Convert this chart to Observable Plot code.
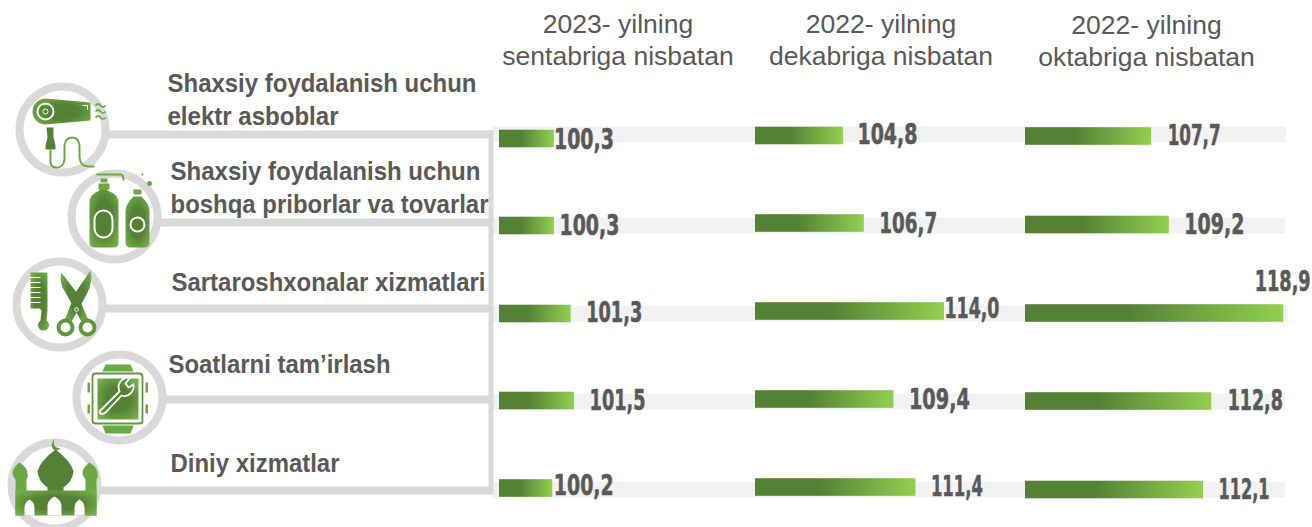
<!DOCTYPE html>
<html>
<head>
<meta charset="utf-8">
<script src="https://cdn.jsdelivr.net/npm/d3@7"></script>
<script src="https://cdn.jsdelivr.net/npm/@observablehq/plot@0.6"></script>
<style>
html,body{margin:0;padding:0;background:#fff;overflow:hidden;}
#chart{position:relative;width:1312px;height:527px;overflow:hidden;}
#chart svg{position:absolute;left:0;top:0;max-width:none;}
</style>
</head>
<body>
<div id="chart"></div>
<script>
// ---------- data ----------
const categories = [
  "Shaxsiy foydalanish uchun\nelektr asboblar",
  "Shaxsiy foydalanish uchun\nboshqa priborlar va tovarlar",
  "Sartaroshxonalar xizmatlari",
  "Soatlarni tam’irlash",
  "Diniy xizmatlar"
];
const panelTitles = [
  "2023- yilning\nsentabriga nisbatan",
  "2022- yilning\ndekabriga nisbatan",
  "2022- yilning\noktabriga nisbatan"
];
const sep2023 = [100.3, 100.3, 101.3, 101.5, 100.2];
const dec2022 = [104.8, 106.7, 114.0, 109.4, 111.4];
const oct2022 = [107.7, 109.2, 118.9, 112.8, 112.1];

// ---------- layout (pixels, kept apart from the data) ----------
const W = 1312, H = 527, GREY = "#595959", LINE = "#d9d9d9", TRACK = "#f2f2f2";
const panels = [
  {values: sep2023, base: 97.03, slope: 16.8, left: 499, titleX: 617.5, titleY: 64,
   barDy: [4.2, 2.6, 2, 0.4, -0.7],
   labelDx: [-0.5, 5, 15, 15, 1], labelDy: [4.7, 2.6, 1, -0.1, -3.7], labelW: [60, 60, 56, 56, 60]},
  {values: dec2022, base: 96.79, slope: 10.98, left: 755, titleX: 880.5, titleY: 64,
   barDy: [1.2, 0.1, -0.5, -1.1, -1.7],
   labelDx: [14, 15, 0, 15, 15], labelDy: [-0.3, 0.1, -3.5, -1.1, -2.7], labelW: [60, 58, 55, 61, 52]},
  {values: oct2022, base: 97, slope: 11.79, left: 1025, titleX: 1146, titleY: 65.5,
   barDy: [1.7, 1.6, 1.5, 0.9, 0.8],
   labelDx: [16, 15, -29, 16, 15], labelDy: [0.7, 1.1, -30.5, -0.1, 0.3], labelW: [53, 60, 56, 55, 51]}
];
const rowLayout = [
  {ringX: 62,  ringY: 129, lineY: 134, lineFrom: 106, trackY: 134, trackEnd: 1286, textX: 167, textY: 124},
  {ringX: 114, ringY: 216, lineY: 222, lineFrom: 158, trackY: 225, trackEnd: 1285, textX: 170, textY: 212},
  {ringX: 59,  ringY: 304, lineY: 308, lineFrom: 95,  trackY: 313, trackEnd: 1288, textX: 171, textY: 290},
  {ringX: 119, ringY: 397, lineY: 399, lineFrom: 163, trackY: 401, trackEnd: 1285, textX: 168, textY: 372},
  {ringX: 54,  ringY: 485, lineY: 490, lineFrom: 98,  trackY: 489, trackEnd: 1285, textX: 170, textY: 471}
];
const categoryLineW = [[309, 171], [310, 318], [314], [222], [169]];

// ---------- icons (each drawn in a 100x100 box centred on its ring) ----------
const grad = `<defs><radialGradient id="g" cx="50%" cy="50%" r="65%"><stop offset="0.45" stop-color="#548235"/><stop offset="1" stop-color="#74b347"/></radialGradient></defs>`;
const wrapIcon = body => "data:image/svg+xml," + encodeURIComponent(
  `<svg xmlns="http://www.w3.org/2000/svg" viewBox="0 0 100 100" width="100" height="100">${grad}${body}</svg>`);
const icons = [
  // hair dryer
  wrapIcon(`<path fill="url(#g)" d="M33 19L78 23V41L33 45A13 13 0 0 1 33 19Z"/>
    <circle cx="33" cy="32" r="8" fill="none" stroke="#fff" stroke-width="2"/>
    <circle cx="33" cy="32" r="2.500" fill="none" stroke="#fff" stroke-width="1"/>
    <path d="M70 26H75V30" fill="none" stroke="#fff" stroke-width="1"/>
    <g fill="none" stroke="#6aa843" stroke-width="1.800"><path d="M83 26q2.500 -3 5 0t5 0"/><path d="M83 32q2.500 -3 5 0t5 0"/><path d="M83 38q2.500 -3 5 0t5 0"/></g>
    <path fill="#548235" d="M34 48H41V58L43 66V70H33V66L35 58Z"/>
    <path d="M38 70V82Q38 88 44 88Q51 88 52 80V66Q53 58 60 58Q66 58 67 66V78Q68 87 76 87H82" fill="none" stroke="#6aa843" stroke-width="2"/>`),
  // bottles
  wrapIcon(`<path fill="url(#g)" d="M25 36Q25 28 35 24V20H43V24Q54 28 54 36V76Q54 81 49 81H30Q25 81 25 76Z"/>
    <rect x="34" y="17" width="11" height="6" fill="#6aa843"/><rect x="36" y="12" width="7" height="4" fill="#6aa843"/>
    <path d="M32 8H56Q59 8 59 14" fill="none" stroke="#6aa843" stroke-width="2"/>
    <rect x="30" y="44" width="18" height="27" rx="9" fill="none" stroke="#fff" stroke-width="2"/>
    <path fill="url(#g)" d="M61 44Q61 38 69 30H77Q85 38 85 44V76Q85 81 80 81H66Q61 81 61 76Z"/>
    <rect x="69" y="23" width="8" height="5" fill="#6aa843"/>
    <circle cx="73" cy="58" r="7" fill="none" stroke="#fff" stroke-width="2"/>
    <circle cx="85" cy="17" r="2.500" fill="#6aa843"/><circle cx="78" cy="8" r="1" fill="#6aa843"/>`),
  // comb and scissors
  wrapIcon(`<path fill="url(#g)" d="M21 18H38V56L37 66A5.500 5.500 0 1 1 31 66L32 56L30 54H21Z"/>
    <g stroke="#fff" stroke-width="1.200"><path d="M20 23H31M20 28H31M20 33H31M20 38H31M20 43H31M20 48H31"/></g>
    <path fill="url(#g)" d="M52 18Q49 28 56 38L73 69L79 66L67 38Z"/>
    <path fill="url(#g)" d="M81 16Q84 28 76 42L61 69L55 66L66 38Z"/>
    <circle cx="56" cy="73" r="7" fill="#fff" stroke="#5f973b" stroke-width="4"/>
    <circle cx="78" cy="73" r="7" fill="#fff" stroke="#5f973b" stroke-width="4"/>
    <circle cx="67" cy="55" r="1.800" fill="none" stroke="#fff" stroke-width="1"/>`),
  // watch with wrench
  wrapIcon(`<path fill="#6aa843" d="M36 17H61L64 24H33Z"/><path fill="#6aa843" d="M33 78H64L61 86H36Z"/>
    <rect x="23" y="26" width="50" height="50" rx="3" fill="none" stroke="#5f973b" stroke-width="1.800"/>
    <rect x="28" y="31" width="41" height="41" fill="url(#g)"/>
    <g fill="#6aa843"><rect x="18" y="35" width="2.500" height="10"/><rect x="18" y="57" width="2.500" height="9"/><rect x="76" y="35" width="2.500" height="10"/><rect x="76" y="57" width="2.500" height="9"/></g>
    <path d="M33 61L50 44Q47 36 53 32Q57 29 61 30L56 36L59 40L64 37Q65 42 61 46Q57 50 52 48L36 65Q32 68 30 65Q30 63 33 61Z" fill="none" stroke="#fff" stroke-width="1.800"/>`),
  // mosque
  wrapIcon(`<path fill="#5f973b" d="M50 3Q47 12 56 13Q52 17 48 13Q46 8 50 3Z"/>
    <path fill="#548235" d="M51 14Q35 26 33 36Q34 46 43 52V56H59V52Q68 46 69 36Q67 26 51 14Z"/>
    <path fill="#6aa843" d="M15 27Q8 32 8 38Q9 42 11 44V80H22V44Q24 42 23 38Q23 32 15 27Z"/>
    <path fill="#6aa843" d="M85 27Q78 32 78 38Q79 42 81 44V80H92V44Q94 42 93 38Q93 32 85 27Z"/>
    <path fill="url(#g)" d="M11 55H92V80H11Z"/>
    <g fill="#fff"><path d="M20 80V72Q20 67 25 64Q30 67 30 72V80Z"/><path d="M43 80V70Q43 65 50 61Q57 65 57 70V80Z"/><path d="M70 80V72Q70 67 75 64Q80 67 80 72V80Z"/></g>`)
];

// ---------- tables ----------
const rowsBase = categories.map((label, i) => ({label, icon: icons[i], ...rowLayout[i]}));
const titles = panelTitles.map((t, i) => ({t, x: panels[i].titleX, y: panels[i].titleY}));
const chart = document.getElementById("chart");
const gradientDefs = () => d3.create("svg:defs").html(
  `<linearGradient id="barGrad" x1="0" x2="1" y1="0" y2="0">
     <stop offset="0" stop-color="#548235"/><stop offset="0.4" stop-color="#548235"/>
     <stop offset="1" stop-color="#92d050"/></linearGradient>`).node();
const fit = (el, w) => {
  el.setAttribute("textLength", w);
  el.setAttribute("lengthAdjust", "spacingAndGlyphs");
};
// narrow a text by a horizontal scale about its anchor, so its box stays true
const squeeze = (t, w) => {
  const sx = w / t.getComputedTextLength();
  t.setAttribute("transform", `${t.getAttribute("transform") || ""} scale(${sx},1)`);
};

// base layer: tracks, connector lines, rings, icons, category labels, panel titles
const basePlot = Plot.plot({
  width: W, height: H, margin: 0, style: {background: "transparent"},
  x: {domain: [0, W], range: [0, W], axis: null},
  y: {domain: [0, H], range: [0, H], axis: null},
  marks: [
    gradientDefs,
    Plot.ruleY(rowsBase, {y: "trackY", x1: 492, x2: "trackEnd", stroke: TRACK, strokeWidth: 16}),
    Plot.ruleY(rowsBase, {y: "lineY", x1: "lineFrom", x2: 493, stroke: LINE, strokeWidth: 8}),
    Plot.ruleX([490.5], {y1: 130, y2: 494, stroke: LINE, strokeWidth: 5}),
    Plot.dot(rowsBase, {x: "ringX", y: "ringY", r: 43, stroke: LINE, strokeWidth: 8, fill: "#fff"}),
    Plot.image(rowsBase, {x: "ringX", y: "ringY", src: "icon", width: 100, height: 100}),
    Plot.text(rowsBase, {x: "textX", y: "textY", text: "label", textAnchor: "start", lineAnchor: "bottom",
      lineHeight: 1.26, fontFamily: "Liberation Sans", fontWeight: 700, fontSize: 26, fill: GREY}),
    Plot.text(titles, {x: "x", y: "y", text: "t", textAnchor: "middle", lineAnchor: "bottom",
      lineHeight: 1.19, fontFamily: "Liberation Sans", fontSize: 26.5, fill: GREY})
  ]
});
chart.append(basePlot);
basePlot.querySelectorAll('g[aria-label="text"]')[0].querySelectorAll("text").forEach((t, i) => {
  const spans = t.querySelectorAll("tspan");
  if (spans.length) spans.forEach((s, j) => fit(s, categoryLineW[i][j]));
  else fit(t, categoryLineW[i][0]);
});

// one layer per panel, each with its own value scale
for (const p of panels) {
  const span = 30;
  const rows = categories.map((c, i) => ({c, v: p.values[i], i, label: p.values[i].toFixed(1).replace(".", ",")}));
  const plot = Plot.plot({
    width: W, height: H, margin: 0, style: {background: "transparent"},
    x: {domain: [p.base, p.base + span], range: [p.left, p.left + span * p.slope], axis: null},
    y: {type: "band", domain: categories, range: [90, 533], padding: 0, round: false, axis: null},
    marks: rows.flatMap(r => [
      Plot.barX([r], {x1: () => p.base, x2: "v", y: "c", dy: p.barDy[r.i], insetTop: 35.5, insetBottom: 35.5, fill: "url(#barGrad)"}),
      Plot.text([r], {x: "v", y: "c", text: "label", dx: p.labelDx[r.i], dy: p.labelDy[r.i], textAnchor: "start",
        fontFamily: "DejaVu Sans", fontWeight: 700, fontSize: 29, fill: GREY, stroke: GREY, strokeWidth: 0.6})
    ])
  });
  chart.append(plot);
  plot.querySelectorAll("text").forEach((t, i) => squeeze(t, p.labelW[i]));
}
</script>
</body>
</html>
